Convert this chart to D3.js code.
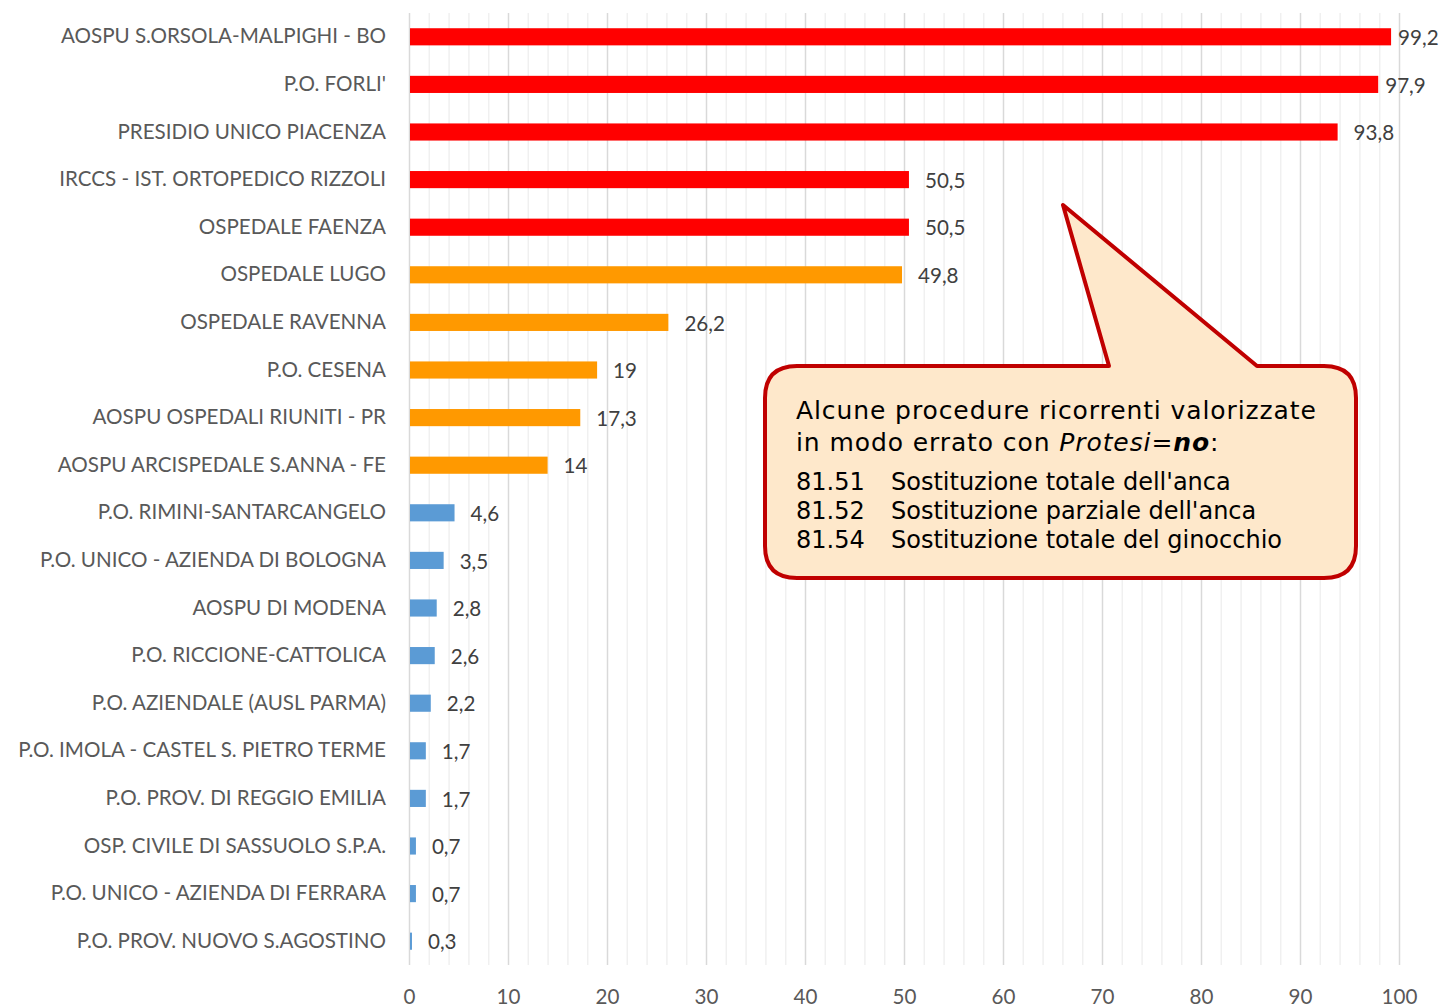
<!DOCTYPE html>
<html>
<head>
<meta charset="utf-8">
<script src="https://cdn.jsdelivr.net/npm/d3@7"></script>
<style>
  body { margin: 0; background: #fff; }
  svg { display: block; }
</style>
</head>
<body>
<svg id="chart"></svg>
<script>
var width = 1441;
var height = 1007;

var hospitals = [
  "AOSPU S.ORSOLA-MALPIGHI - BO",
  "P.O. FORLI'",
  "PRESIDIO UNICO PIACENZA",
  "IRCCS - IST. ORTOPEDICO RIZZOLI",
  "OSPEDALE FAENZA",
  "OSPEDALE LUGO",
  "OSPEDALE RAVENNA",
  "P.O. CESENA",
  "AOSPU OSPEDALI RIUNITI - PR",
  "AOSPU ARCISPEDALE S.ANNA - FE",
  "P.O. RIMINI-SANTARCANGELO",
  "P.O. UNICO - AZIENDA DI BOLOGNA",
  "AOSPU DI MODENA",
  "P.O. RICCIONE-CATTOLICA",
  "P.O. AZIENDALE (AUSL PARMA)",
  "P.O. IMOLA - CASTEL S. PIETRO TERME",
  "P.O. PROV. DI REGGIO EMILIA",
  "OSP. CIVILE DI SASSUOLO S.P.A.",
  "P.O. UNICO - AZIENDA DI FERRARA",
  "P.O. PROV. NUOVO S.AGOSTINO"
];
var values = [99.2, 97.9, 93.8, 50.5, 50.5, 49.8, 26.2, 19, 17.3, 14, 4.6, 3.5, 2.8, 2.6, 2.2, 1.7, 1.7, 0.7, 0.7, 0.3];
// classe di colore per ciascuna barra
var groups = ["alta", "alta", "alta", "alta", "alta", "media", "media", "media", "media", "media",
  "bassa", "bassa", "bassa", "bassa", "bassa", "bassa", "bassa", "bassa", "bassa", "bassa"];
var xTicks = [0, 10, 20, 30, 40, 50, 60, 70, 80, 90, 100];
var noteTitle = ["Alcune procedure ricorrenti valorizzate", "in modo errato con "];
var noteCodes = ["81.51", "81.52", "81.54"];
var noteDescr = ["Sostituzione totale dell'anca", "Sostituzione parziale dell'anca", "Sostituzione totale del ginocchio"];

var margin = { top: 13, right: 42, bottom: 42, left: 409 };
var labelFont = "Lato, 'Open Sans', sans-serif";

var data = hospitals.map((h, i) => ({ name: h, value: values[i], group: groups[i] }));

var svg = d3.select("#chart").attr("width", width).attr("height", height);

var xScale = d3.scaleLinear().domain([0, 100]).range([margin.left, width - margin.right]);
var yScale = d3.scaleBand()
  .domain(hospitals)
  .range([margin.top, height - margin.bottom])
  .paddingInner(0.64)
  .paddingOuter(0.32);

var colorScale = d3.scaleOrdinal()
  .domain(["alta", "media", "bassa"])
  .range(["#ff0000", "#ff9900", "#5b9bd5"]);

// griglia
var minor = d3.range(0, 101, 2);
svg.append("g")
  .selectAll("line")
  .data(minor)
  .enter()
  .append("line")
  .attr("x1", (d) => xScale(d) + 0.5)
  .attr("x2", (d) => xScale(d) + 0.5)
  .attr("y1", margin.top)
  .attr("y2", height - margin.bottom)
  .attr("stroke", (d) => (d % 10 === 0 ? "#d9d9d9" : "#f0f0f0"))
  .attr("stroke-width", 1.5);

// asse x
var xAxis = d3.axisBottom(xScale).tickValues(xTicks).tickSize(0).tickPadding(24);
svg.append("g")
  .attr("transform", `translate(0, ${height - margin.bottom})`)
  .call(xAxis)
  .call((g) => g.select(".domain").remove())
  .selectAll("text")
  .attr("font-family", labelFont)
  .attr("font-size", 20.6)
  .attr("fill", "#595959");

// asse y
var yAxis = d3.axisLeft(yScale).tickSize(0).tickPadding(23);
svg.append("g")
  .attr("transform", `translate(${margin.left}, 0)`)
  .call(yAxis)
  .call((g) => g.select(".domain").remove())
  .selectAll("text")
  .attr("font-family", labelFont)
  .attr("font-size", 20.6)
  .attr("fill", "#595959");

// barre
svg.append("g")
  .selectAll("rect")
  .data(data)
  .enter()
  .append("rect")
  .attr("x", xScale(0) + 1)
  .attr("y", (d) => yScale(d.name))
  .attr("width", (d) => xScale(d.value) - xScale(0) - 1)
  .attr("height", yScale.bandwidth())
  .attr("fill", (d) => colorScale(d.group));

// etichette valori (quelle vicine al bordo destro sono accostate alla barra)
svg.append("g")
  .selectAll("text")
  .data(data)
  .enter()
  .append("text")
  .attr("x", (d) => xScale(d.value) + (d.value > 95 ? 7 : 16))
  .attr("y", (d) => yScale(d.name) + yScale.bandwidth() / 2 + 1)
  .attr("dy", "0.35em")
  .attr("font-family", labelFont)
  .attr("font-size", 20.6)
  .attr("fill", "#404040")
  .text((d) => String(d.value).replace(".", ","));

// nota (callout)
var bx = 765, by = 366, bw = 591, bh = 212, r = 32;
var tip = [1063, 205], b1 = 1109, b2 = 1257;
var path = `M${bx + r},${by} L${b1},${by} L${tip[0]},${tip[1]} L${b2},${by} L${bx + bw - r},${by}
  Q${bx + bw},${by} ${bx + bw},${by + r} L${bx + bw},${by + bh - r}
  Q${bx + bw},${by + bh} ${bx + bw - r},${by + bh} L${bx + r},${by + bh}
  Q${bx},${by + bh} ${bx},${by + bh - r} L${bx},${by + r} Q${bx},${by} ${bx + r},${by} Z`;
svg.append("path")
  .attr("d", path)
  .attr("fill", "#fee8cb")
  .attr("stroke", "#c00000")
  .attr("stroke-width", 4)
  .attr("stroke-linejoin", "round");

var note = svg.append("g")
  .attr("font-family", "'DejaVu Sans', Verdana, sans-serif")
  .attr("fill", "#000");

note.append("text").attr("x", 796).attr("y", 419)
  .attr("font-size", 25).attr("letter-spacing", 0.9)
  .text(noteTitle[0]);
var t2 = note.append("text").attr("x", 796).attr("y", 451)
  .attr("font-size", 25).attr("letter-spacing", 0.9);
t2.append("tspan").text(noteTitle[1]);
t2.append("tspan").attr("font-style", "italic").text("Protesi");
t2.append("tspan").text("=");
t2.append("tspan").attr("font-style", "italic").attr("font-weight", "bold").text("no");
t2.append("tspan").text(":");

noteCodes.forEach((c, i) => {
  note.append("text").attr("x", 796).attr("y", 490 + i * 29).attr("font-size", 24).text(c);
  note.append("text").attr("x", 891).attr("y", 490 + i * 29).attr("font-size", 24).text(noteDescr[i]);
});
</script>
</body>
</html>
